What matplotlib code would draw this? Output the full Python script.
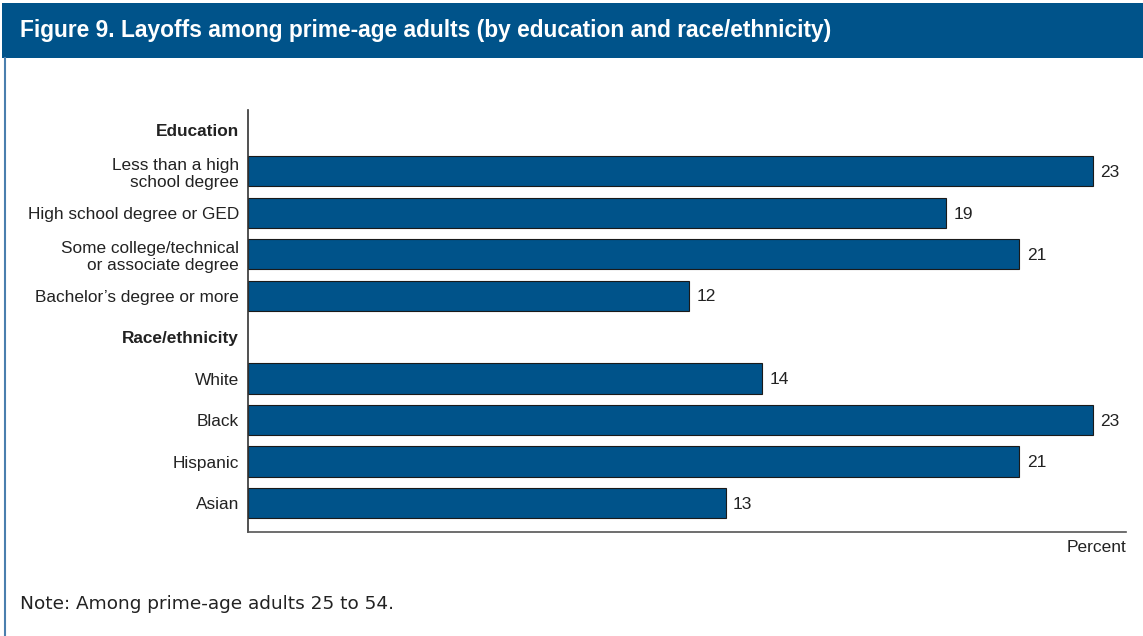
import matplotlib
matplotlib.use("Agg")
import matplotlib.pyplot as plt
from matplotlib.patches import Rectangle
from matplotlib.lines import Line2D
from matplotlib import font_manager

names = {f.name for f in font_manager.fontManager.ttflist}
cond = "Liberation Sans Narrow" if "Liberation Sans Narrow" in names else "Liberation Sans"

rows = ["Education", "Less than a high\nschool degree", "High school degree or GED",
        "Some college/technical\nor associate degree", "Bachelor’s degree or more",
        "Race/ethnicity", "White", "Black", "Hispanic", "Asian"]
values = [None, 23, 19, 21, 12, None, 14, 23, 21, 13]
headers = {"Education", "Race/ethnicity"}

BLUE = "#00538a"
W, H = 1143, 636
fig = plt.figure(figsize=(W/100, H/100), dpi=100)

# header band
fig.patches.append(Rectangle((2/W, 1-58/H), 1, 55/H, transform=fig.transFigure,
                             facecolor=BLUE, edgecolor="none"))
fig.lines.append(Line2D([4.5/W, 4.5/W], [0, 1-58/H], transform=fig.transFigure,
                        color="#4a7fae", lw=1.5))
fig.text(20/W, 1-30/H, "Figure 9. Layoffs among prime-age adults (by education and race/ethnicity)",
         color="white", fontsize=16.4, fontweight="bold", family=cond, va="center", ha="left")
fig.text(20/W, 1-604/H, "Note: Among prime-age adults 25 to 54.", fontsize=13.3,
         family="DejaVu Sans", color="#222222", va="center", ha="left")

ax_l, ax_r = 248/W, 1126/W
ax_t, ax_b = 1-110/H, 1-532/H
ax = fig.add_axes([ax_l, ax_b, ax_r-ax_l, ax_t-ax_b])
n = len(rows)
ypos = list(range(n))
for y, v in zip(ypos, values):
    if v is not None:
        ax.barh(y, v, height=0.73, color=BLUE, edgecolor="#1a1a1a", linewidth=0.8)
        ax.text(v + 0.2, y + 0.03, str(v), va="center", ha="left", fontsize=12.5,
                family=cond, color="#222222")
ax.set_ylim(n - 1 + 0.70, -0.48)
ax.set_xlim(0, 23.9)
ax.set_yticks(ypos)
ax.set_yticklabels(rows, family=cond, fontsize=12.4, color="#222222")
for lab in ax.get_yticklabels():
    lab.set_linespacing(1.22)
    if lab.get_text() in headers:
        lab.set_fontweight("bold")
ax.tick_params(axis="y", length=0, pad=6.5)
ax.set_xticks([])
for s in ["top", "right"]:
    ax.spines[s].set_visible(False)
ax.spines["left"].set_color("#333333")
ax.spines["bottom"].set_color("#555555")
ax.spines["left"].set_linewidth(1.2)
ax.spines["bottom"].set_linewidth(1.2)
ax.text(1.0, -0.02, "Percent", transform=ax.transAxes, ha="right", va="top",
        fontsize=12.5, family=cond, color="#222222")

fig.savefig("out.png", dpi=100)
